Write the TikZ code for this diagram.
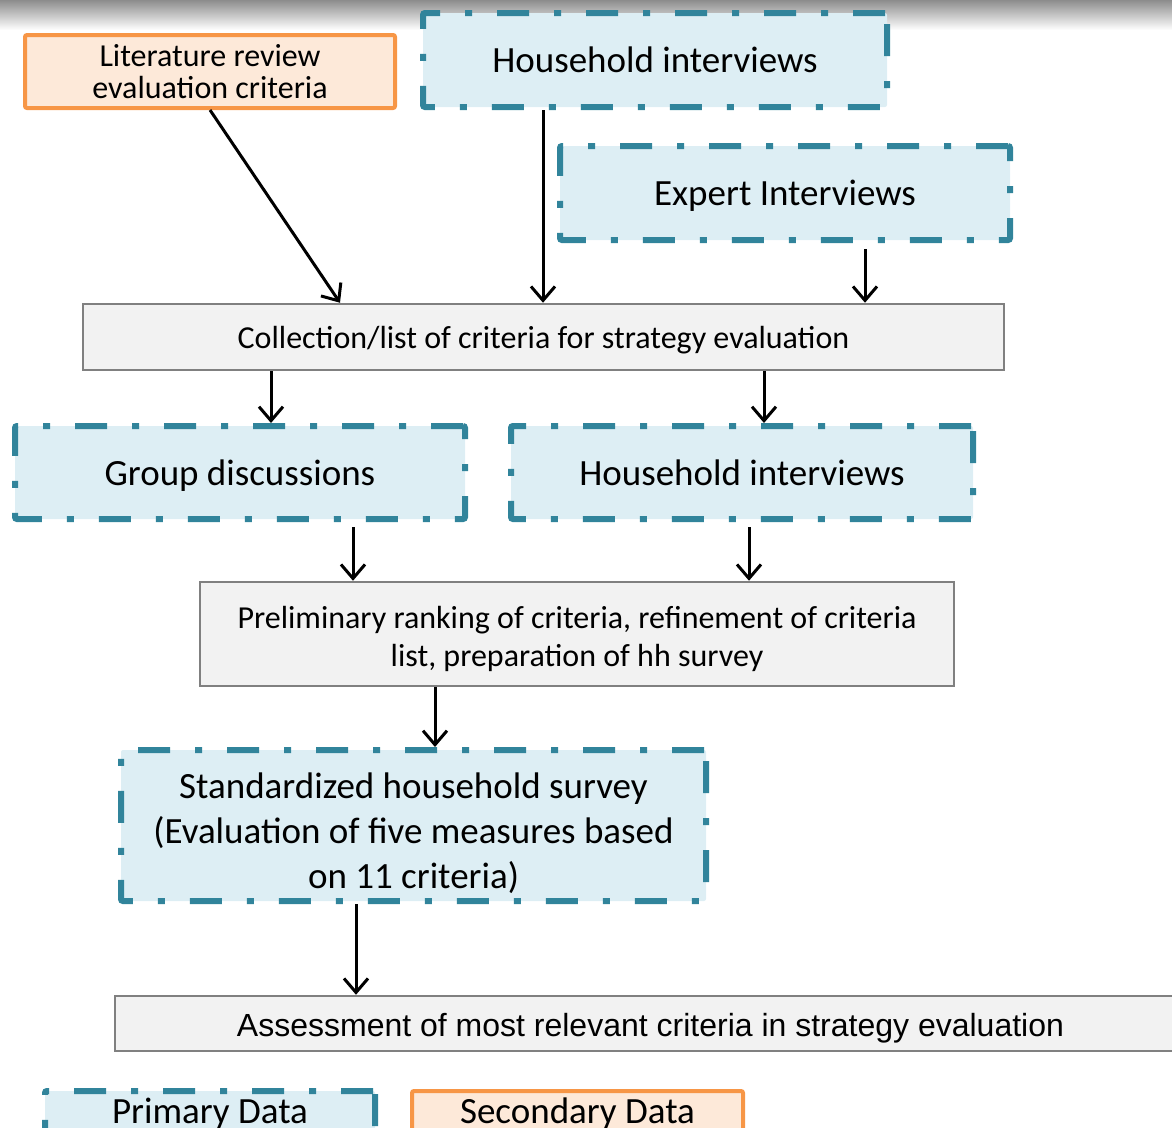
\documentclass[tikz,border=0pt]{standalone}
\usepackage{fontspec}
\setmainfont{Carlito}
\newfontfamily\arialfont{Liberation Sans}
\usetikzlibrary{arrows.meta, positioning}
\definecolor{prmteal}{HTML}{31849B}
\definecolor{prmfill}{HTML}{DDEEF4}
\definecolor{secorange}{HTML}{F79646}
\definecolor{secfill}{HTML}{FDE9D9}
\definecolor{procgray}{HTML}{808080}
\definecolor{procfill}{HTML}{F2F2F2}
\newcommand{\lowerline}[1]{\rule{0pt}{#1}}

\begin{document}
\begin{tikzpicture}[
  x=1pt, y=-1pt,
  >={Straight Barb[length=14pt, width=24pt]},
  bigtext/.style={font=\fontsize{37}{45}\selectfont},
  smalltext/.style={font=\fontsize{32}{38}\selectfont},
  lowered/.style={execute at begin node={\rule{0pt}{#1}}},
  primbox/.style={draw=prmteal, fill=prmfill, line width=6pt, rounded corners=2pt,
    dash pattern=on 32pt off 25pt on 7pt off 25pt, align=center, inner sep=0pt},
  secbox/.style={draw=secorange, fill=secfill, line width=4pt, rounded corners=2pt, align=center, inner sep=0pt},
  procbox/.style={draw=procgray, fill=procfill, line width=2.5pt, align=center, inner sep=0pt},
  flow/.style={black, line width=3pt, ->},
]

% Page frame
\useasboundingbox (0,0) rectangle (1172,1127);
\clip (0,0) rectangle (1172,1127);
\shade[top color=black!45, bottom color=white] (0,0) rectangle (1172,30);

% Sources
\node[secbox, minimum width=370, minimum height=73, font=\fontsize{32}{32}\selectfont] (lit) at (210,71.5)
  {Literature review\\evaluation criteria};
\node[primbox, bigtext, minimum width=464, minimum height=94] (hh1) at (655,60) {Household interviews};
\node[primbox, bigtext, minimum width=450, minimum height=94, lowered=31pt] (exp) at (785,193) {Expert Interviews};

% Criteria list
\node[procbox, smalltext, minimum width=921, minimum height=66, lowered=29pt] (coll) at (543.5,337)
  {Collection/list of criteria for strategy evaluation};

\draw[flow] (lit.south) -- ([xshift=-203.5]coll.north);
\draw[flow] ([xshift=-112]hh1.south) -- ([xshift=-0.5]coll.north);
\draw[flow, shorten <=6pt] ([xshift=80]exp.south) -- ([xshift=321.5]coll.north);

% Discussions
\node[primbox, bigtext, minimum width=450, minimum height=93, lowered=31pt] (gd) at (240,472.5) {Group discussions};
\node[primbox, bigtext, minimum width=462, minimum height=93] (hh2) at (742,472.5) {Household interviews};

\draw[flow] ([xshift=-272.5]coll.south) -- ([xshift=31]gd.north);
\draw[flow] ([xshift=220.5]coll.south) -- ([xshift=22]hh2.north);

% Ranking
\node[procbox, smalltext, minimum width=754, minimum height=104] (pre) at (577,634)
  {\lowerline{32pt}Preliminary ranking of criteria, refinement of criteria\\list, preparation of hh survey};

\draw[flow, shorten <=5pt] ([xshift=113]gd.south) -- ([xshift=-224]pre.north);
\draw[flow, shorten <=5pt] ([xshift=7]hh2.south) -- ([xshift=172]pre.north);

% Survey
\node[primbox, bigtext, minimum width=585, minimum height=151] (std) at (413.5,825.5)
  {\lowerline{42pt}Standardized household survey\\(Evaluation of five measures based\\on 11 criteria)};

\draw[flow] ([xshift=-142]pre.south) -- ([xshift=21.5]std.north);

% Result
\node[procbox, font=\arialfont\fontsize{32}{38}\selectfont, minimum width=1071, minimum height=55, lowered=33pt] (ass) at (650.5,1023.5)
  {Assessment of most relevant criteria in strategy evaluation};

\draw[flow] ([xshift=-57.5]std.south) -- ([xshift=-294.5]ass.north);

% Legend
\node[primbox, bigtext, minimum width=330, minimum height=46] (lgprim) at (210,1114) {Primary Data};
\node[secbox, bigtext, minimum width=331, minimum height=46] (lgsec) at (577.5,1114) {Secondary Data};

\end{tikzpicture}
\end{document}
